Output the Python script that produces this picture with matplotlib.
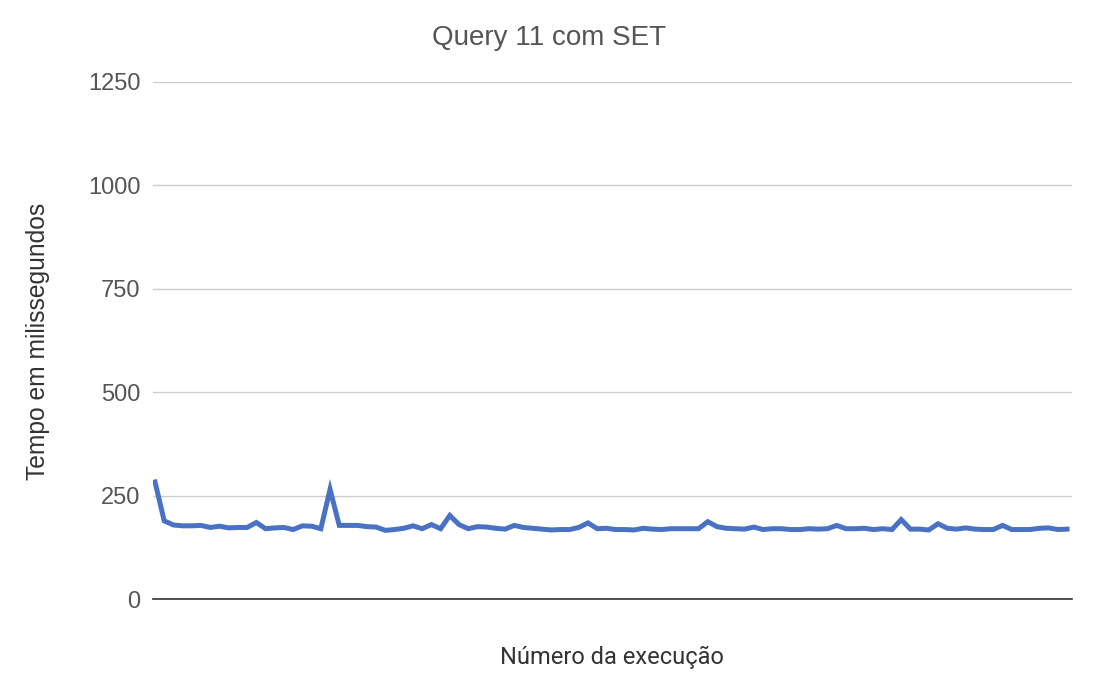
import matplotlib
matplotlib.use('Agg')
import matplotlib.pyplot as plt

plt.rcParams['font.family'] = ['Liberation Sans', 'DejaVu Sans']

# tempo de cada execucao (ms)
tempos = [283, 189, 179, 177, 177, 178, 173, 176, 172, 173,
          173, 185, 170, 172, 173, 168, 177, 176, 170, 265,
          178, 178, 178, 175, 174, 166, 168, 171, 177, 170,
          180, 170, 202, 180, 170, 175, 174, 171, 169, 178,
          173, 171, 169, 167, 168, 168, 173, 184, 170, 171,
          168, 168, 167, 171, 169, 168, 170, 170, 170, 170,
          187, 175, 171, 170, 169, 174, 168, 170, 170, 168,
          168, 170, 169, 170, 178, 170, 170, 171, 168, 170,
          168, 192, 169, 169, 167, 182, 171, 169, 172, 169,
          168, 168, 178, 168, 168, 168, 171, 172, 168, 169]
execucoes = list(range(1, len(tempos) + 1))
yticks = [0, 250, 500, 750, 1000, 1250]

fig = plt.figure(figsize=(10.94, 6.93), dpi=100)
ax = fig.add_axes([0.14, 0.1356, 0.84, 0.7461])

ax.plot(execucoes, tempos, color='#4a72c4', lw=3.6, solid_joinstyle='miter')
ax.set_xlim(0.8, 100.55)
ax.set_ylim(0, 1250)
ax.set_yticks(yticks)
ax.set_yticklabels([str(t) for t in yticks])
ax.set_xticks([])
ax.grid(axis='y', color='#cccccc', lw=1)
ax.set_axisbelow(True)
for s in ['top', 'right', 'left']:
    ax.spines[s].set_visible(False)
ax.spines['bottom'].set_color('#333333')
ax.spines['bottom'].set_linewidth(1.2)
ax.tick_params(axis='y', length=0, pad=9, labelsize=17, labelcolor='#555555')

fig.text(0.502, 0.945, 'Query 11 com SET', ha='center', va='center', fontsize=20, color='#555555')
fig.text(0.559, 0.052, 'Número da execução', ha='center', va='center', fontsize=17,
         color='#333333', family=['Roboto', 'DejaVu Sans'])
fig.text(0.035, 0.508, 'Tempo em milissegundos', ha='center', va='center', rotation=90,
         fontsize=17.7, color='#333333')

fig.savefig('out.png', dpi=100)
